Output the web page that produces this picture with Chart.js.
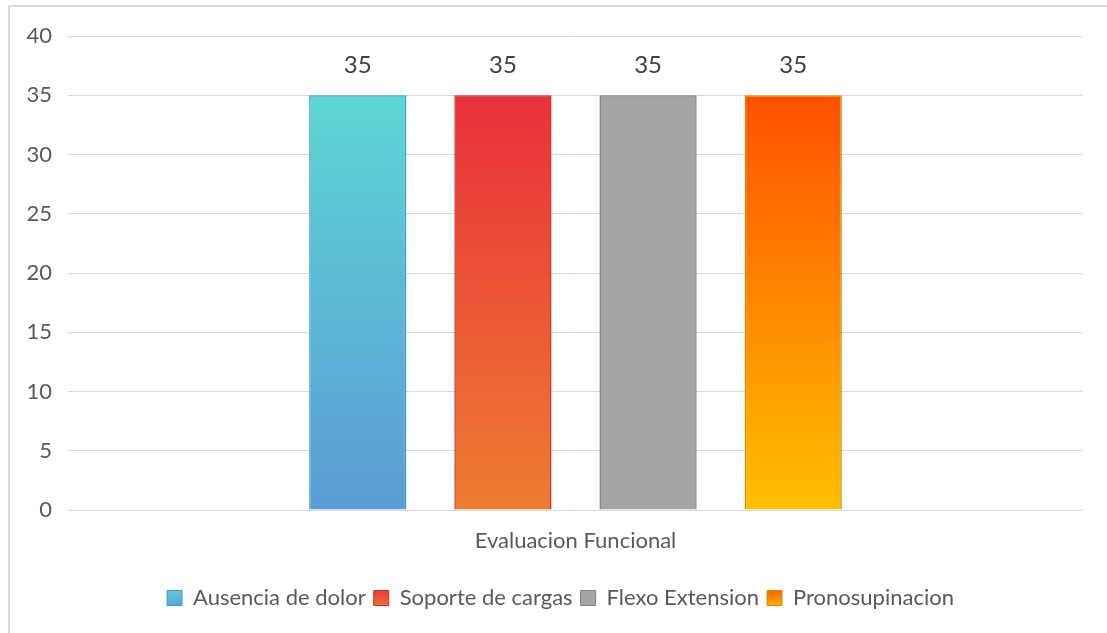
<!DOCTYPE html>
<html>
<head>
<meta charset="utf-8">
<script src="https://cdn.jsdelivr.net/npm/chart.js@4"></script>
<style>
  html, body { margin: 0; padding: 0; background: #ffffff; }
  body { width: 1107px; height: 633px; position: relative; overflow: hidden; }
  #frame { position: absolute; left: 8px; top: 5px; width: 1200px; height: 700px;
           border-left: 2px solid #d9d9d9; border-top: 2px solid #d9d9d9; box-sizing: border-box; }
  #wrap { position: absolute; left: 0; top: 0; width: 1107px; height: 633px; }
</style>
</head>
<body>
<div id="frame"></div>
<div id="wrap"><canvas id="chart"></canvas></div>
<script>
// Evaluación funcional: one category, four criteria
const categories = ['Evaluacion Funcional'];
const seriesNames = ['Ausencia de dolor', 'Soporte de cargas', 'Flexo Extension', 'Pronosupinacion'];
const seriesValues = [[35], [35], [35], [35]];
const yTicks = [0, 5, 10, 15, 20, 25, 30, 35, 40];

// top / bottom gradient stops and outline for each series
const gradTop = ['#5dd6d4', '#e9303b', '#a5a5a5', '#ff5000'];
const gradBottom = ['#5b9bd5', '#ed7d31', '#a5a5a5', '#ffc000'];
const outline = ['#3a9fbf', '#c4302a', '#7f7f7f', '#c98f08'];

const FONT = 'Lato, "Open Sans", sans-serif';
const TEXT = '#595959';

function barGradient(ctx, i, top, bottom) {
  const g = ctx.createLinearGradient(0, top, 0, bottom);
  g.addColorStop(0, gradTop[i]);
  g.addColorStop(1, gradBottom[i]);
  return g;
}

const datasets = seriesNames.map((name, i) => ({
  label: name,
  data: seriesValues[i],
  backgroundColor: (c) => {
    const chart = c.chart;
    const y = chart.scales.y;
    if (!y || !chart.chartArea) return gradBottom[i];
    const v = c.raw !== undefined ? c.raw : seriesValues[i][0];
    return barGradient(chart.ctx, i, y.getPixelForValue(v), y.getPixelForValue(0));
  },
  borderColor: outline[i],
  borderWidth: 1.5,
  barPercentage: 0.67,
  categoryPercentage: 0.572
}));

// value labels above each bar
const valueLabels = {
  id: 'valueLabels',
  afterDatasetsDraw(chart) {
    const ctx = chart.ctx;
    ctx.save();
    ctx.font = '24px ' + FONT;
    ctx.fillStyle = '#404040';
    ctx.textAlign = 'center';
    ctx.textBaseline = 'middle';
    chart.data.datasets.forEach((ds, i) => {
      chart.getDatasetMeta(i).data.forEach((bar, j) => {
        ctx.fillText(String(ds.data[j]), bar.x, bar.y - 30);
      });
    });
    ctx.restore();
  }
};

// legend: centred on the whole canvas, gradient swatches
const LEGEND_SHIFT = 19;
const legendSwatches = {
  id: 'legendSwatches',
  afterLayout(chart) {
    const lg = chart.legend;
    if (!lg) return;
    lg.left += LEGEND_SHIFT;
    lg.right += LEGEND_SHIFT;
  },
  beforeDraw(chart) {
    const lg = chart.legend;
    if (!lg || !lg.legendItems || !lg.legendHitBoxes) return;
    lg.legendItems.forEach((item, i) => {
      const hb = lg.legendHitBoxes[i];
      if (!hb) return;
      item.fillStyle = barGradient(chart.ctx, item.datasetIndex, hb.top, hb.top + hb.height);
      item.strokeStyle = outline[item.datasetIndex];
      item.lineWidth = 1;
    });
  }
};

new Chart(document.getElementById('chart'), {
  type: 'bar',
  data: { labels: categories, datasets },
  plugins: [valueLabels, legendSwatches],
  options: {
    responsive: true,
    maintainAspectRatio: false,
    animation: false,
    layout: { padding: { top: 36, right: 24, bottom: 14, left: 0 } },
    plugins: {
      tooltip: { enabled: false },
      legend: {
        position: 'bottom',
        labels: {
          font: { family: FONT, size: 22 },
          color: TEXT,
          boxWidth: 15,
          boxHeight: 15,
          padding: 8
        }
      }
    },
    scales: {
      x: {
        grid: { display: false, drawTicks: false },
        border: { display: false },
        ticks: { font: { family: FONT, size: 22 }, color: TEXT, padding: 18 },
        afterFit: (s) => { s.height = 69; }
      },
      y: {
        min: 0,
        max: 40,
        afterBuildTicks: (s) => { s.ticks = yTicks.map(v => ({ value: v })); },
        grid: { color: '#d9d9d9', lineWidth: 1, drawTicks: false },
        border: { display: false },
        ticks: { font: { family: FONT, size: 22 }, color: TEXT, padding: 16 },
        afterFit: (s) => { s.width = 68; }
      }
    }
  }
});
</script>
</body>
</html>
